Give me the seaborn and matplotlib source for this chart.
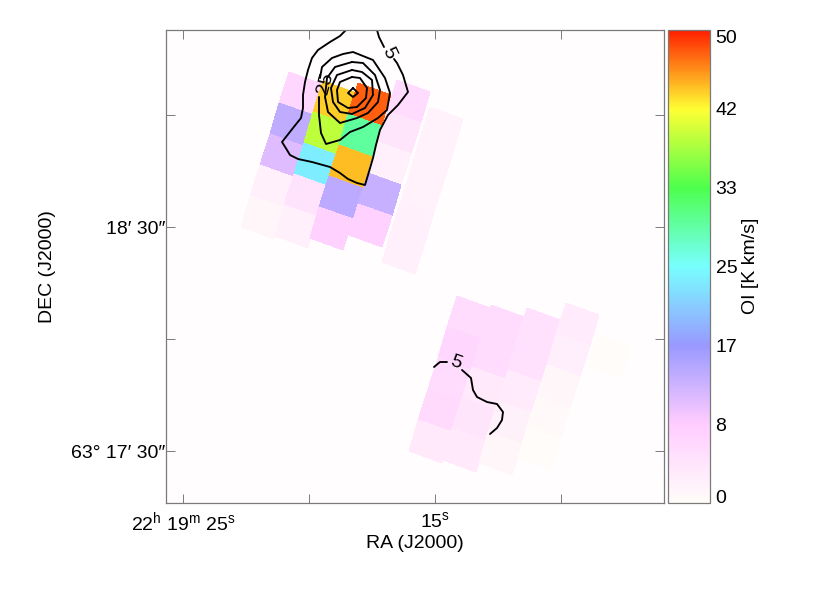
import numpy as np
import matplotlib
matplotlib.use("Agg")
import matplotlib.pyplot as plt
from matplotlib.colors import LinearSegmentedColormap, Normalize
from matplotlib.cm import ScalarMappable
import pandas as pd
import seaborn as sns

sns.set_theme(style="white")
plt.rcParams['font.family'] = ['Liberation Sans', 'DejaVu Sans']
plt.rcParams['mathtext.fontset'] = 'custom'
plt.rcParams['mathtext.rm'] = 'Liberation Sans'
plt.rcParams['mathtext.default'] = 'rm'

# Map coordinates: sky offset from (22h19m25s, 63d17m30s), 25.2 units per RA second, 3.733 per arcsec of DEC
upper_values = [
    [6.5, 13.5, 11, 2.2, 1.0],
    [43.4, 38.5, 23.5, 4.5, 2.2],
    [47.6, 29.5, 44, 14, 7.5],
    [5.5, 4, 2.2, 13, 7.5],
    [1.8, 1.8, 1.8, 2.2, 2.2],
]
upper_origin_x = [106, 140, 175, 214, 247]
upper_origin_y = [379, 370, 368, 371, 344]

lower_values = [
    [5.5, 6.5, 5.5, 6, 3.5],
    [5.5, 5.5, 3.5, 4, 3.5],
    [5, 5, 3, 2, 1],
    [3, 2.5, 1, 0.4, 0.1],
    [0.05],
]
lower_origin_x = [274, 308, 344, 383, 414]
lower_origin_y = [155, 146, 143, 148, 116]

contour_5a_x = [163,157,147,135,129,125,122,120,120,118,110,99,104,107,115,129,147,157,165,174,182,185,190,193,197,205,215,225,220,214,211]
contour_5a_y = [421,415,409,401,393,381,369,356,343,333,323,309,301,296,292,289,284,278,272,268,266,276,293,306,321,336,346,359,376,388,392]
contour_5b_x = [201,196,194]
contour_5b_y = [404,414,421]
contour_25_x = [137,139,149,160,170,190,202,207,204,195,180,167,157,143,138,136,136]
contour_25_y = [373,384,393,397,399,391,373,358,341,333,324,319,311,307,318,336,354]
ring2_x = [169,180,192,197,195,185,174,157,145,142,144,152,169]
ring2_y = [389,388,376,361,349,338,333,328,339,354,373,384,389]
ring3_x = [169,179,189,190,182,169,157,150,148,154,169]
ring3_y = [381,379,371,356,343,337,339,349,363,376,381]
ring4_x = [169,177,184,183,174,165,155,154,157,169]
ring4_y = [374,373,363,353,344,343,349,361,369,374]
peak_x = [170,175,170,165,170]
peak_y = [363,358,354,358,363]
south1_x = [251,257,264]
south1_y = [84,89,89]
south2_x = [279,288,290,294,304,314,320,319,314,307]
south2_y = [81,73,61,54,49,47,39,31,23,17]

cbar_ticks = [0, 8.33, 16.67, 25, 33.33, 41.67, 50]
cbar_labels = ['0', '8', '17', '25', '33', '42', '50']
cbar_minor = [4.17, 12.5, 20.83, 29.17, 37.5, 45.83]
ra_ticks = [0, 126, 252, 378]
ra_labels = [r'22$^{h}$ 19$^{m}$ 25$^{s}$', '', r'15$^{s}$', '']
dec_ticks = [0, 112, 224, 336]
dec_labels = ['63° 17′ 30″', '', '18′ 30″', '']

STEP_U = np.array([33.3, -12.0])
STEP_V = np.array([-9.7, -31.0])
GREY = '#7a7a7a'
cmap = LinearSegmentedColormap.from_list('oi', [
    (0.0, '#FFFCF9'), (8.33/50, '#FFCCFF'), (16.67/50, '#9999FF'), (0.5, '#77FFFF'),
    (33.33/50, '#4DFF4D'), (41.67/50, '#FFFF33'), (1.0, '#FF2000')])
norm = Normalize(0, 50)

fig = plt.figure(figsize=(8.3, 5.93), dpi=100)
W, H = 830, 593
ax = fig.add_axes([166/W, 1-503/H, 498/W, 473/H], facecolor='#FFFDFD')
ax.set_xlim(-17, 481)
ax.set_ylim(-52, 421)

def draw_group(values, xs, ys):
    for col, x0, y0 in zip(values, xs, ys):
        n = len(col)
        rows = np.arange(n + 1)[:, None]
        cols = np.array([[0, 1]])
        X = x0 + cols * STEP_U[0] + rows * STEP_V[0]
        Y = y0 + cols * STEP_U[1] + rows * STEP_V[1]
        ax.pcolormesh(X, Y, np.array(col)[:, None], cmap=cmap, norm=norm,
                      shading='flat', edgecolors='none', rasterized=True)

draw_group(upper_values, upper_origin_x, upper_origin_y)
draw_group(lower_values, lower_origin_x, lower_origin_y)

for xs, ys in [(contour_5a_x, contour_5a_y), (contour_5b_x, contour_5b_y),
               (contour_25_x, contour_25_y), (ring2_x, ring2_y), (ring3_x, ring3_y),
               (ring4_x, ring4_y), (peak_x, peak_y), (south1_x, south1_y), (south2_x, south2_y)]:
    df = pd.DataFrame({'x': xs, 'y': ys})
    sns.lineplot(data=df, x='x', y='y', sort=False, estimator=None, color='black',
                 linewidth=1.35, ax=ax, legend=False)

ax.text(206, 398, '5', rotation=-65, fontsize=14, ha='center', va='center', color='black')
ax.text(142, 368, '25', rotation=75, fontsize=14, ha='center', va='center', color='black')
ax.text(273, 88, '5', rotation=-20, fontsize=14, ha='center', va='center', color='black')

ax.set_xticks(ra_ticks)
ax.set_xticklabels(ra_labels)
ax.set_yticks(dec_ticks)
ax.set_yticklabels(dec_labels)
ax.tick_params(axis='x', which='major', pad=5.5)
ax.tick_params(axis='y', which='major', pad=0.5)
ax.tick_params(axis='both', which='major', direction='in', length=6.5, width=0.7, color=GREY,
               top=True, right=True, bottom=True, left=True, labelsize=14, labelcolor='black')
ax.set_xlabel('')
ax.set_ylabel('')
for s in ax.spines.values():
    s.set_color(GREY)
    s.set_linewidth(0.9)
    s.set_visible(True)

fig.text(415/W, 1-544/H, 'RA (J2000)', fontsize=14, ha='center', va='center', color='black')
fig.text(48/W, 1-267/H, 'DEC (J2000)', fontsize=14, rotation=90, ha='center', va='center', color='black')

cax = fig.add_axes([668/W, 1-503/H, 42/W, 473/H])
cb = fig.colorbar(ScalarMappable(norm=norm, cmap=cmap), cax=cax)
cb.set_ticks(cbar_ticks)
cb.set_ticklabels(cbar_labels)
cax.set_yticks(cbar_minor, minor=True)
cax.tick_params(axis='y', which='both', direction='in', length=6, width=0.7, color=GREY,
                right=True, left=False, labelsize=14, pad=4, labelcolor='black')
cb.outline.set_edgecolor(GREY)
cb.outline.set_linewidth(0.9)
labs = cax.get_yticklabels()
labs[0].set_va('baseline')
labs[-1].set_va('top')
fig.text(750/W, 1-266/H, 'OI [K km/s]', fontsize=14, rotation=90, ha='center', va='center', color='black')

fig.savefig('out.png', dpi=100)
